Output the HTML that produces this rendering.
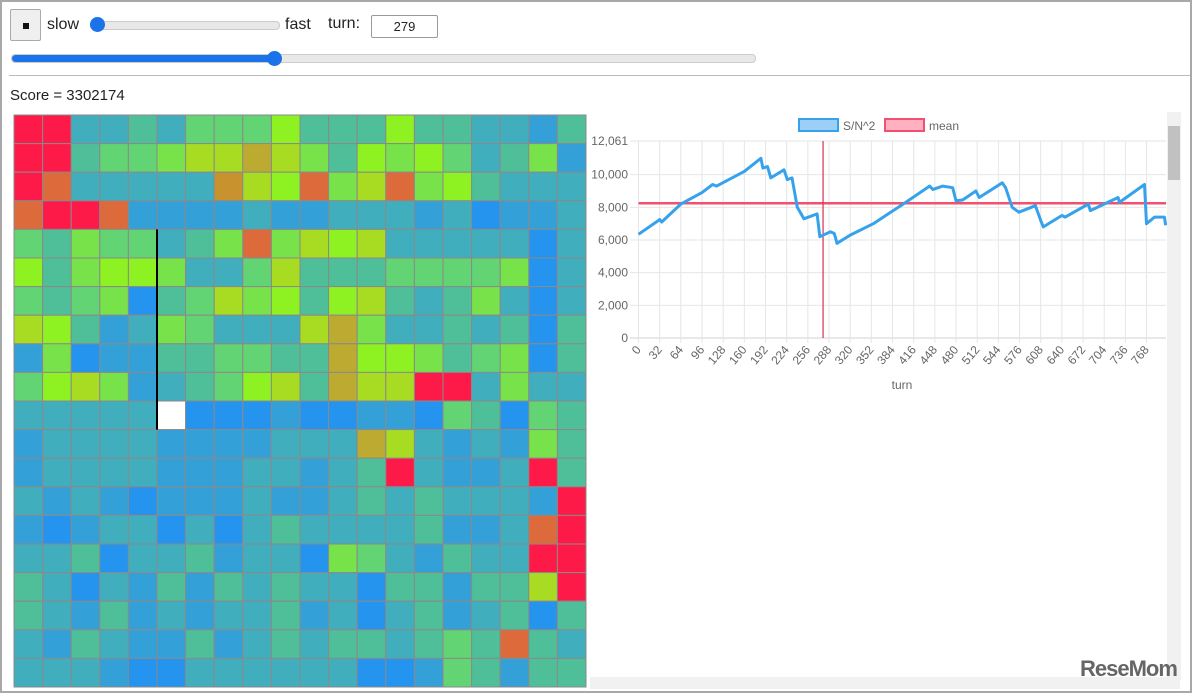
<!DOCTYPE html>
<html><head><meta charset="utf-8">
<style>
html,body{margin:0;padding:0;background:#fff;}
body{width:1192px;height:693px;position:relative;overflow:hidden;font-family:"Liberation Sans",sans-serif;color:#222;}
.frame{position:absolute;left:0;top:0;width:1188px;height:689px;border:2px solid #a8a8a8;}
.abs{position:absolute;}
</style></head>
<body>
<div class="frame"></div>
<div class="abs" style="left:10px;top:9px;width:29px;height:30px;border:1px solid #aaa;border-radius:2px;background:#efefef;"><div style="position:absolute;left:12px;top:13px;width:6px;height:6px;background:#111;"></div></div>
<div class="abs" style="left:47px;top:16px;font-size:16px;">slow</div>
<div class="abs" style="left:90px;top:21px;width:188px;height:7px;background:#e8e8e8;border:1px solid #ccc;border-radius:4px;"><div style="position:absolute;left:-1px;top:-5px;width:15px;height:15px;border-radius:50%;background:#1a73e8;"></div></div>
<div class="abs" style="left:285px;top:16px;font-size:16px;">fast</div>
<div class="abs" style="left:328px;top:15px;font-size:16px;">turn:</div>
<div class="abs" style="left:371px;top:15px;width:65px;height:21px;border:1px solid #999;border-radius:2px;font-size:13px;text-align:center;line-height:21px;">279</div>
<div class="abs" style="left:11px;top:54px;width:743px;height:7px;background:#e8e8e8;border:1px solid #ccc;border-radius:4px;"><div style="position:absolute;left:0;top:0;width:262px;height:7px;background:#1a73e8;border-radius:4px;"></div><div style="position:absolute;left:255px;top:-4px;width:15px;height:15px;border-radius:50%;background:#1a73e8;"></div></div>
<div class="abs" style="left:9px;top:75px;width:1181px;height:1px;background:#bbb;"></div>
<div class="abs" style="left:10px;top:87px;font-size:15px;">Score = 3302174</div>

<svg class="abs" style="left:0;top:0" width="1192" height="693">
<g id="grid"></g>
<g id="chart"></g>
</svg>
<div class="abs" style="left:1167px;top:112px;width:14px;height:568px;background:#f1f1f1;"><div style="position:absolute;left:1px;top:14px;width:12px;height:54px;background:#c1c1c1;"></div></div>
<div class="abs" style="left:590px;top:677px;width:590px;height:12px;background:#f1f1f1;"></div>
<div class="abs" style="left:1080px;top:656px;font-size:22px;font-weight:bold;color:#666;letter-spacing:-1px;">ReseMom</div>

<script>
// heatmap levels: B=0 b=1 c=2 t=3 g=4 G=5 L=6 Y=7 o=8 O=9 R=10 W=white
const heatRows = [
"RRcctcgggLtttLttccbt",
"RRtggGYYoYGtLGLgctGb",
"ROccccc9YLOGYOGLtccc",
"ORRObbbbcbbcccbcBbbc",
"gtGggctGOGYLYcccccBc",
"LtGLLGccgYtttggggGBc",
"gtgGBtgYGLtLYtctGcBc",
"YLtbcGgcccYoGcctctBt",
"bGBbbttggttoLLGtgGBt",
"gLYGbctgLYtoYYRRcGcc",
"cccccWBBBbBBbbBgtBgt",
"bccccbbbbcccoYcbcbGt",
"bccccbbbccbctRcbbcRt",
"cbcbBbbbcbbctctcccbR",
"bBbccBcBctcccctbbcOR",
"cctBcctbccBGgcbtccRR",
"tcBcbtbtctccBttbttYR",
"tcbtbcbcctbcBctbctBt",
"cbtcbbtbctcttctgtOtc",
"cccbBBccccccBBbgtbtt"
];
const levelColors = {B:"#2494ee",b:"#34a0d8",c:"#40aebc",t:"#4ebf98",g:"#62d474",G:"#78e24a",L:"#8ef222",Y:"#a8dc22",o:"#bcab30","9":"#c8922e",O:"#dc6a3a",R:"#fe1a48",W:"#ffffff"};
const turns = [0,32,35,64,96,112,118,160,185,188,195,200,220,225,232,240,250,270,274,290,296,300,320,355,400,440,445,460,475,480,490,510,515,550,555,565,575,600,608,612,640,645,680,683,725,727,765,768,780,795,797];
const values = [6350,7250,7100,8200,8900,9400,9300,10200,11000,10400,10500,9800,10300,9700,9800,8000,7300,7600,6200,6500,6400,5800,6300,7000,8200,9300,9100,9300,9200,8400,8450,9000,8600,9500,9200,8000,7700,8100,7200,6800,7500,7400,8200,7800,8600,8300,9400,7000,7400,7400,6900];
const yTicks = [0,2000,4000,6000,8000,10000,12061];
const yTickLabels = ["0","2,000","4,000","6,000","8,000","10,000","12,061"];
const xTicks = [0,32,64,96,128,160,192,224,256,288,320,352,384,416,448,480,512,544,576,608,640,672,704,736,768];
const meanValue = 8250;
const currentTurn = 279;

const NS="http://www.w3.org/2000/svg";
function mk(tag,attrs,parent){const e=document.createElementNS(NS,tag);for(const k in attrs)e.setAttribute(k,attrs[k]);parent.appendChild(e);return e;}

// heatmap
const grid=document.getElementById('grid');
const gx0=14,gy0=115,cs=28.6;
heatRows.forEach((row,r)=>{
  for(let c=0;c<row.length;c++){
    const rect=mk('rect',{x:gx0+c*cs,y:gy0+r*cs,width:cs,height:cs,fill:levelColors[row[c]],stroke:'#8a8a8a','stroke-width':1},grid);
    
    
  }
});
const wall=mk('line',{x1:gx0+5*cs,y1:gy0+4*cs,x2:gx0+5*cs,y2:gy0+11*cs,stroke:'#000','stroke-width':2},grid);



// chart
const ch=document.getElementById('chart');
const X0=638.5,XPER=0.6615,Y0=338,YMAX=12061,YTOP=141,XR=1166;
const xs=t=>X0+t*XPER;
const ys=v=>Y0-(v/YMAX)*(Y0-YTOP);
yTicks.forEach((v,i)=>{
  const l=mk('line',{x1:630,x2:XR,y1:ys(v),y2:ys(v),stroke:i==0?'#d0d0d0':'#e6e6e6','stroke-width':1},ch);
  
  
  const t=mk('text',{x:628,y:ys(v)+4,'text-anchor':'end','font-size':12,fill:'#666','font-family':'Liberation Sans, sans-serif'},ch);
  t.textContent=yTickLabels[i];
  
  
});
xTicks.forEach(v=>{
  const l=mk('line',{x1:xs(v),x2:xs(v),y1:YTOP,y2:Y0+5,stroke:'#e6e6e6','stroke-width':1},ch);
  
  
  const t=mk('text',{x:xs(v)+3,y:Y0+12,'text-anchor':'end','font-size':12,fill:'#666','font-family':'Liberation Sans, sans-serif',transform:`rotate(-50 ${xs(v)+3} ${Y0+12})`},ch);
  t.textContent=v;
  
  
});
const xt=mk('text',{x:902,y:389,'text-anchor':'middle','font-size':12,fill:'#666','font-family':'Liberation Sans, sans-serif'},ch);
xt.textContent='turn';



const meanLine=mk('line',{x1:X0,x2:XR,y1:ys(meanValue),y2:ys(meanValue),stroke:'#f2506e','stroke-width':2.5},ch);


const cur=mk('line',{x1:xs(currentTurn),x2:xs(currentTurn),y1:YTOP,y2:Y0,stroke:'#d6334a','stroke-width':1.2},ch);


const pts=turns.map((t,i)=>xs(t).toFixed(1)+','+ys(values[i]).toFixed(1)).join(' ');
const sl=mk('polyline',{points:pts,fill:'none',stroke:'#36a2eb','stroke-width':3,'stroke-linejoin':'round'},ch);



// legend
const lg1=mk('rect',{x:799,y:119,width:39,height:12,fill:'#9ccff5',stroke:'#36a2eb','stroke-width':2},ch);


const lt1=mk('text',{x:843,y:130,'font-size':12,fill:'#666','font-family':'Liberation Sans, sans-serif'},ch);
lt1.textContent='S/N^2';


const lg2=mk('rect',{x:885,y:119,width:39,height:12,fill:'#ffb1c1',stroke:'#f2506e','stroke-width':2},ch);


const lt2=mk('text',{x:929,y:130,'font-size':12,fill:'#666','font-family':'Liberation Sans, sans-serif'},ch);
lt2.textContent='mean';


</script>
</body></html>
